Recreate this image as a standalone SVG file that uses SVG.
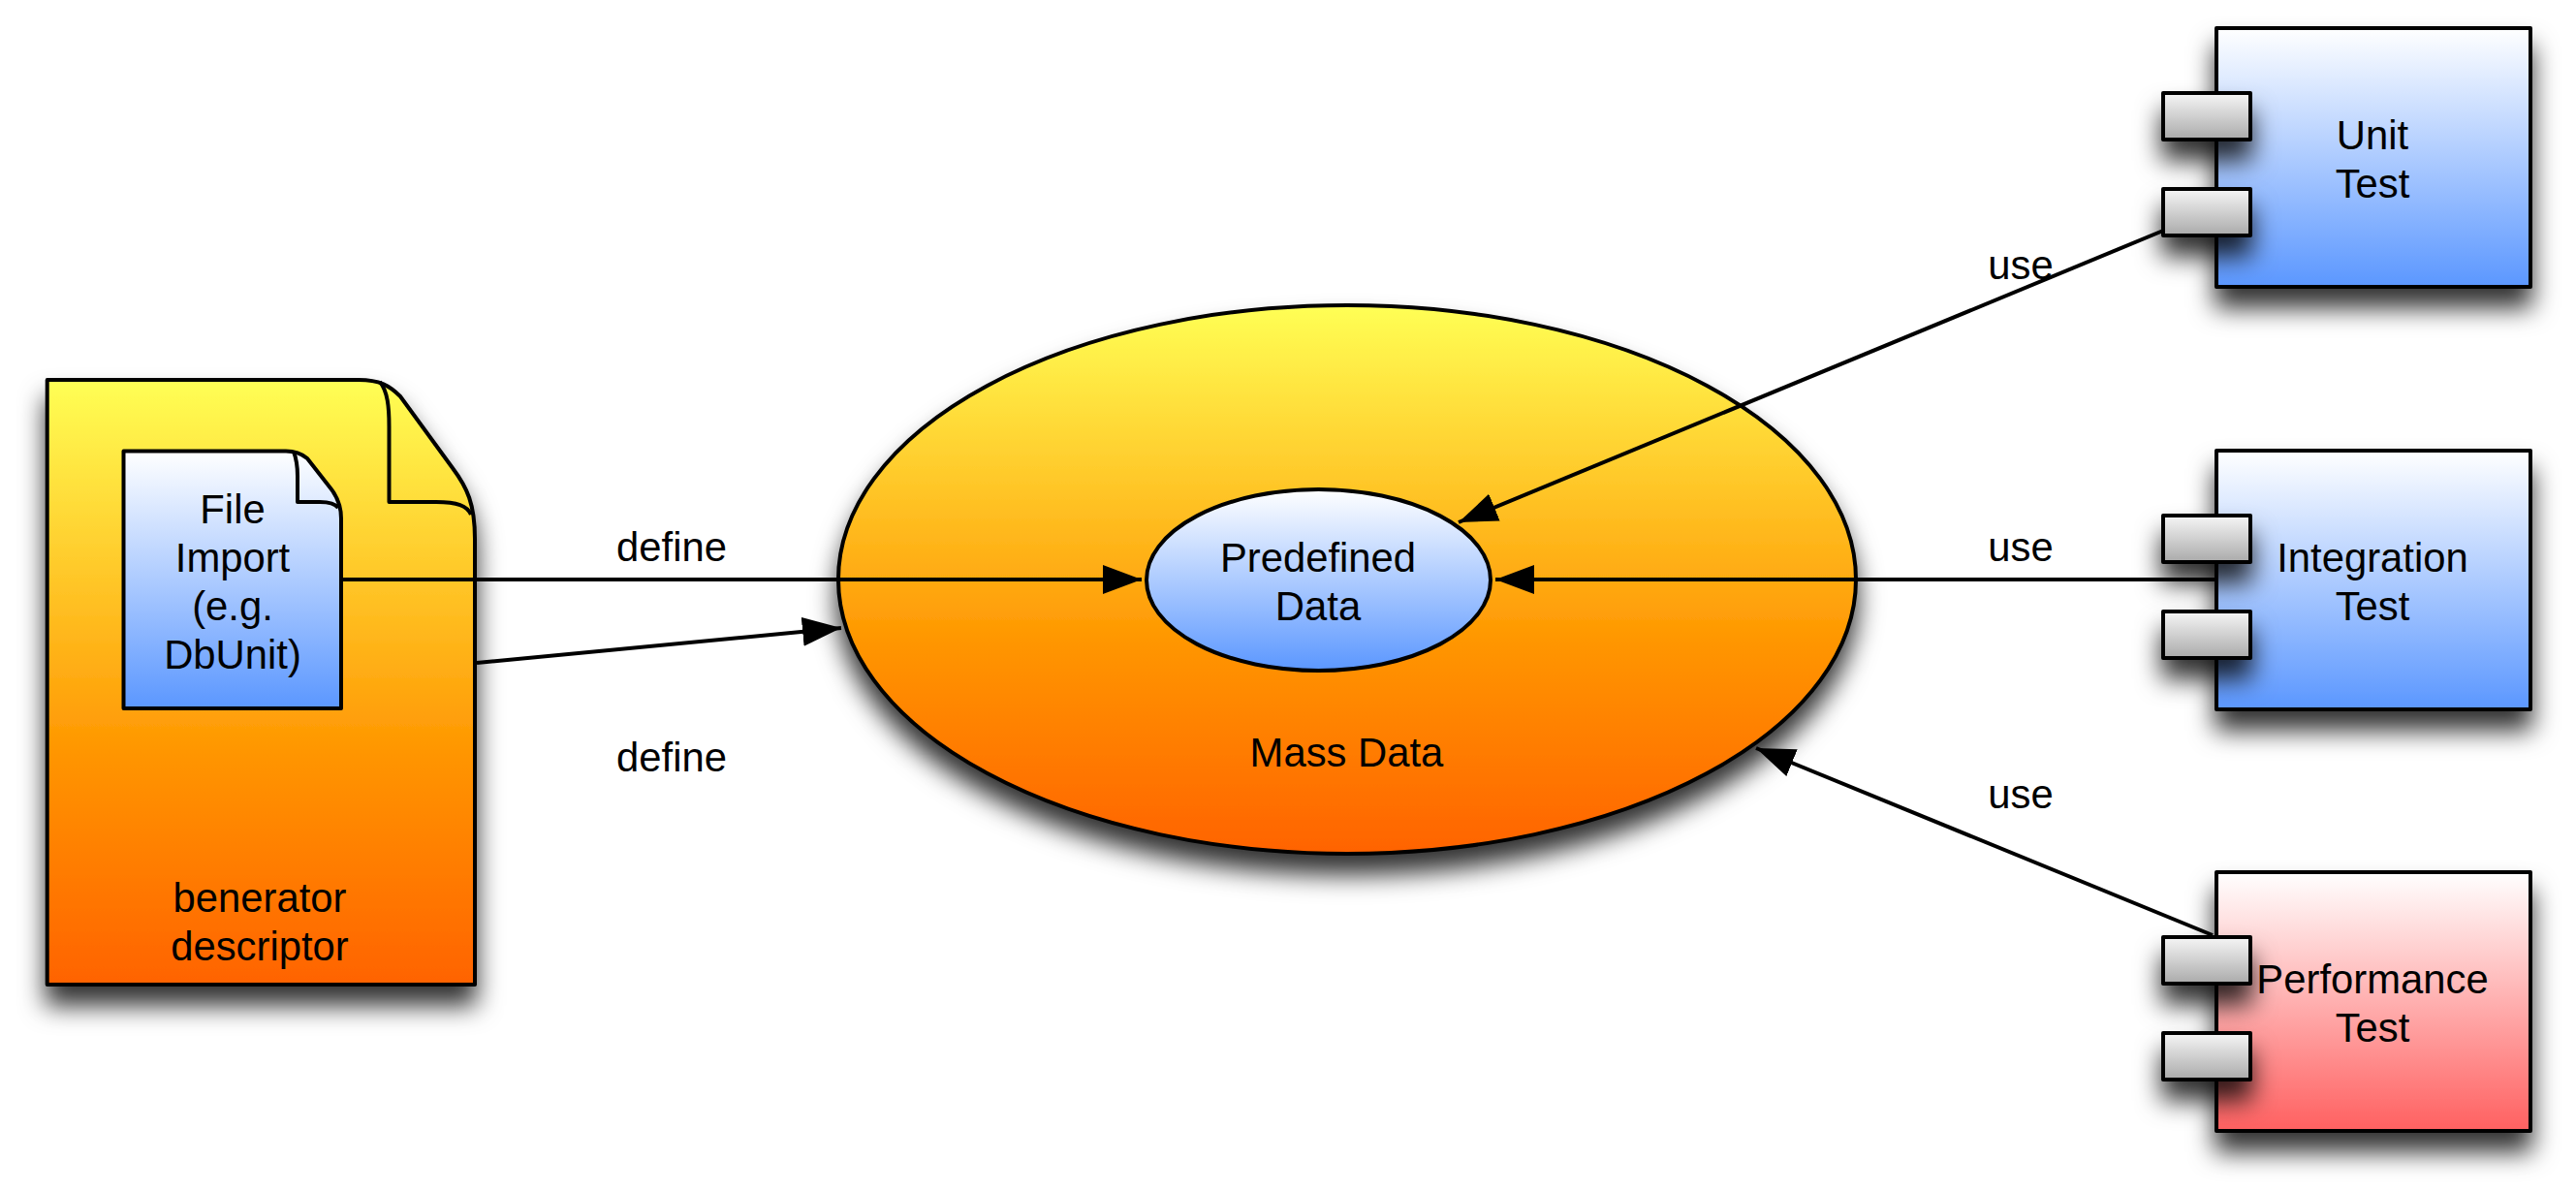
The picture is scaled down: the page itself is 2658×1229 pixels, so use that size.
<svg xmlns="http://www.w3.org/2000/svg" width="2658" height="1229" viewBox="0 0 2658 1229">
<style>
text{font-family:"Liberation Sans",Arial,sans-serif;font-size:41.8px;fill:#000;text-anchor:middle}
.s{stroke:#000;stroke-width:4;stroke-linejoin:round}
.thin{fill:none;stroke:#000;stroke-width:4;stroke-linejoin:round}
.c{fill:none;stroke:#000;stroke-width:4}
.blue{fill:url(#blue)}.red{fill:url(#red)}.org{fill:url(#org)}.gray{fill:url(#gray)}
.sh{filter:url(#shadow)}
</style>
<defs>
<linearGradient id="org" x1="0" y1="0" x2="0" y2="1"><stop offset="0" stop-color="#ffff55"/><stop offset="0.62" stop-color="#ff9500"/><stop offset="1" stop-color="#ff6300"/></linearGradient>
<linearGradient id="blue" x1="0" y1="0" x2="0" y2="1"><stop offset="0" stop-color="#ffffff"/><stop offset="1" stop-color="#5b97ff"/></linearGradient>
<linearGradient id="red" x1="0" y1="0" x2="0" y2="1"><stop offset="0" stop-color="#ffffff"/><stop offset="1" stop-color="#ff6060"/></linearGradient>
<linearGradient id="gray" x1="0" y1="0" x2="0" y2="1"><stop offset="0" stop-color="#f6f6f6"/><stop offset="1" stop-color="#aaaaaa"/></linearGradient>
<filter id="shadow" x="-80%" y="-80%" width="260%" height="300%"><feDropShadow dx="0" dy="20" stdDeviation="13" flood-color="#000" flood-opacity="0.8"/></filter>
<marker id="arrow" markerUnits="userSpaceOnUse" markerWidth="44" markerHeight="34" refX="40" refY="15" orient="auto"><path d="M0 0L40 15L0 30Z" fill="#000"/></marker>
</defs>
<rect width="2658" height="1229" fill="#fff"/>
<g id="benerator-descriptor">
<path class="s org sh" d="M48.7 392H370C392 392 402 398 413 409L467 483C482 503 490 520 490 556V1016H48.7Z"/>
<path class="thin" d="M392 394C400 404 401.500 420 401.500 440V518H450C472 518 482 522 486 531"/>
<text x="268" y="941">benerator</text>
<text x="268" y="991">descriptor</text>
</g>
<g id="file-import">
<path class="s blue" d="M127.500 465.500H295C305 465.500 311 468 317 473L342 505C348 513 352 522 352 535V731H127.500Z"/>
<path class="thin" d="M303 466C306 474 307 482 307 491V518H330C340 518 346 520 349 524"/>
<text x="240" y="540">File</text>
<text x="240" y="590">Import</text>
<text x="240" y="640">(e.g.</text>
<text x="240" y="690">DbUnit)</text>
</g>
<g id="mass-data">
<ellipse class="s org sh" cx="1390" cy="598" rx="525" ry="283"/>
<text x="1389.500" y="791">Mass Data</text>
</g>
<g id="predefined-data">
<ellipse class="s blue" cx="1360.500" cy="598.500" rx="177.500" ry="93.500"/>
<text x="1360" y="590">Predefined</text>
<text x="1360" y="640">Data</text>
</g>
<g id="unit-test">
<rect class="s blue sh" x="2287" y="29" width="324" height="267"/>
<rect class="s gray sh" x="2232" y="96" width="90" height="48"/>
<rect class="s gray sh" x="2232" y="195" width="90" height="48"/>
<text x="2448" y="154">Unit</text>
<text x="2448" y="204">Test</text>
</g>
<g id="integration-test">
<rect class="s blue sh" x="2287" y="465" width="324" height="267"/>
<rect class="s gray sh" x="2232" y="532" width="90" height="48"/>
<rect class="s gray sh" x="2232" y="631" width="90" height="48"/>
<text x="2448" y="590">Integration</text>
<text x="2448" y="640">Test</text>
</g>
<g id="performance-test">
<rect class="s red sh" x="2287" y="900" width="324" height="267"/>
<rect class="s gray sh" x="2232" y="967" width="90" height="48"/>
<rect class="s gray sh" x="2232" y="1066" width="90" height="48"/>
<text x="2448" y="1025">Performance</text>
<text x="2448" y="1075">Test</text>
</g>
<g id="connectors">
<path class="c" marker-end="url(#arrow)" d="M352 598H1178"/>
<path class="c" marker-end="url(#arrow)" d="M492 684L868 648"/>
<path class="c" marker-end="url(#arrow)" d="M2232 238L1505 539"/>
<path class="c" marker-end="url(#arrow)" d="M2287 598H1543"/>
<path class="c" marker-end="url(#arrow)" d="M2283 965L1812 772"/>
</g>
<g id="labels">
<text x="2085" y="288">use</text>
<text x="2085" y="579">use</text>
<text x="2085" y="834">use</text>
<text x="693" y="579">define</text>
<text x="693" y="796">define</text>
</g>
</svg>
